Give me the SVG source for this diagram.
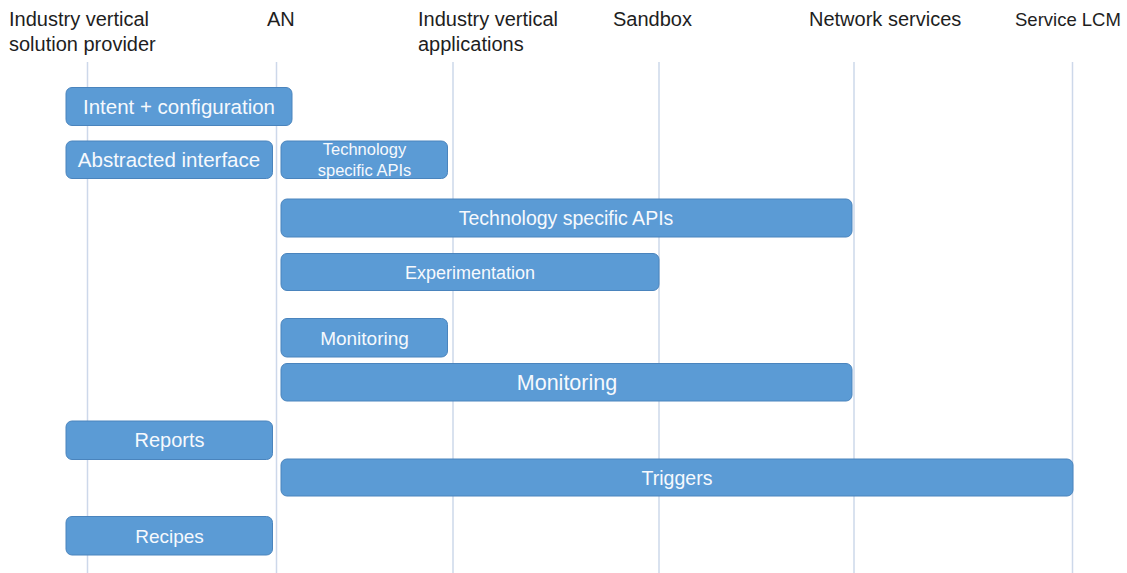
<svg xmlns="http://www.w3.org/2000/svg" width="1127" height="573" viewBox="0 0 1127 573">
<style>
.hdr{font-family:"Liberation Sans",Arial,sans-serif;font-size:20px;fill:#1e1e1e}
.box{fill:#5b9bd5;stroke:#4a84bd;stroke-width:1}
.lbl{font-family:"Liberation Sans",Arial,sans-serif;font-size:20px;fill:#f6f9fd;text-anchor:middle}
.life{stroke:#cdd8ea;stroke-width:1.5}
</style>
<rect width="1127" height="573" fill="#ffffff"/>
<g id="lifelines">
<line class="life" x1="87.5" y1="62" x2="87.5" y2="573"/>
<line class="life" x1="276.5" y1="62" x2="276.5" y2="573"/>
<line class="life" x1="453" y1="62" x2="453" y2="573"/>
<line class="life" x1="659" y1="62" x2="659" y2="573"/>
<line class="life" x1="854" y1="62" x2="854" y2="573"/>
<line class="life" x1="1072.5" y1="62" x2="1072.5" y2="573"/>
</g>
<g id="headers">
<text class="hdr" x="9" y="26">Industry vertical</text>
<text class="hdr" x="9" y="51">solution provider</text>
<text class="hdr" x="267" y="26">AN</text>
<text class="hdr" x="418" y="26">Industry vertical</text>
<text class="hdr" x="418" y="51">applications</text>
<text class="hdr" x="613" y="26">Sandbox</text>
<text class="hdr" x="809" y="26">Network services</text>
<text class="hdr" x="1015" y="26" style="font-size:18.5px">Service LCM</text>
</g>
<g id="n-intent"><rect class="box" x="66" y="87.5" width="226" height="38" rx="6"/><text class="lbl" x="179" y="114" style="font-size:20.5px">Intent + configuration</text></g>
<g id="n-abstracted"><rect class="box" x="66" y="141" width="206.5" height="37.5" rx="6"/><text class="lbl" x="169" y="167" style="font-size:20.5px">Abstracted interface</text></g>
<g id="n-tech-small"><rect class="box" x="281" y="141" width="166.5" height="37.5" rx="6"/><text class="lbl" x="364.5" y="154.5" style="font-size:16.5px">Technology</text><text class="lbl" x="364.5" y="175.5" style="font-size:16.5px">specific APIs</text></g>
<g id="n-tech-big"><rect class="box" x="281" y="199" width="571" height="38" rx="6"/><text class="lbl" x="566" y="225" style="font-size:19.5px">Technology specific APIs</text></g>
<g id="n-experimentation"><rect class="box" x="281" y="253.5" width="378" height="37" rx="6"/><text class="lbl" x="470" y="278.5" style="font-size:18px">Experimentation</text></g>
<g id="n-monitoring-small"><rect class="box" x="281" y="318.5" width="166.5" height="38.5" rx="6"/><text class="lbl" x="364.5" y="344.5" style="font-size:19px">Monitoring</text></g>
<g id="n-monitoring-big"><rect class="box" x="281" y="363.5" width="571" height="37.5" rx="6"/><text class="lbl" x="567" y="390" style="font-size:21.5px">Monitoring</text></g>
<g id="n-reports"><rect class="box" x="66" y="421" width="206.5" height="38.5" rx="6"/><text class="lbl" x="169.5" y="447">Reports</text></g>
<g id="n-triggers"><rect class="box" x="281" y="459" width="792" height="37" rx="6"/><text class="lbl" x="677" y="484.5" style="font-size:19.5px">Triggers</text></g>
<g id="n-recipes"><rect class="box" x="66" y="516.5" width="206.5" height="38.5" rx="6"/><text class="lbl" x="169.5" y="542.5" style="font-size:19px">Recipes</text></g>
<g id="connectors"></g>
</svg>
